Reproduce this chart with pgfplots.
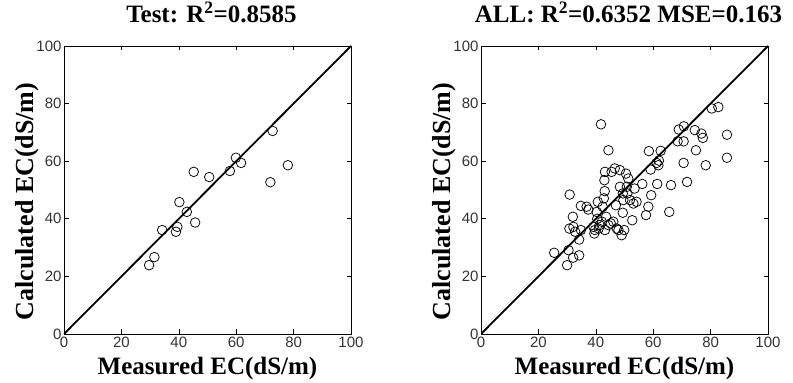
\documentclass[border=0pt]{standalone}
\usepackage{fontspec}
\setmainfont{Liberation Serif}
\newfontfamily\arialfont{Liberation Sans}
\usepackage{pgfplots}
\pgfplotsset{compat=1.18}

\pgfplotsset{
  ecaxis/.style={
    scale only axis, width=287pt, height=288pt,
    xmin=0, xmax=100, ymin=0, ymax=100,
    xtick={0,20,...,100}, ytick={0,20,...,100},
    tick align=inside, xtick pos=both, ytick pos=both,
    major tick length=4.5pt,
    axis line style={line width=0.9pt},
    tick style={line width=0.6pt, black},
    /pgf/number format/assume math mode=true,
    ticklabel style={font=\arialfont\fontsize{15}{15}\selectfont, color=black!80},
    xticklabel style={yshift=1pt},
    yticklabel style={xshift=1pt},
    every axis title/.style={font=\bfseries\fontsize{25}{25}\selectfont, at={(axis description cs:0.5,1)}, anchor=base, yshift=23pt, xshift=4pt},
    every axis x label/.style={at={(axis description cs:0.5,0)}, anchor=base, yshift=-41pt, font=\bfseries\fontsize{25}{25}\selectfont},
    every axis y label/.style={at={(axis description cs:-0.105,0.46)}, rotate=90, anchor=base, font=\bfseries\fontsize{26}{26}\selectfont},
    xlabel={Measured EC(dS/m)},
    ylabel={Calculated EC(dS/m)},
  },
  pts/.style={only marks, mark=o, mark size=4.8pt, mark options={line width=0.75pt, black}},
  diag/.style={black, line width=1.8pt, no marks},
}

\begin{document}
\begin{tikzpicture}[x=1pt,y=1pt]
\useasboundingbox (0,0) rectangle (793,383);
\begin{axis}[ecaxis, at={(64pt,49pt)}, anchor=south west,
  title={Test: R\textsuperscript{2}=0.8585}]
\addplot[diag] coordinates {(0,0) (100,100)};
\addplot[pts] coordinates {
(29.65,23.9) (31.5,26.7) (34.2,36.1) (39.0,35.5) (39.5,37.2) (40.2,45.8)
(42.8,42.4) (45.7,38.7) (45.2,56.3) (50.6,54.5) (57.8,56.6) (59.9,61.2)
(61.7,59.4) (71.9,52.7) (72.7,70.5) (78.0,58.6)
};
\end{axis}
\begin{axis}[ecaxis, at={(481pt,49pt)}, anchor=south west,
  title={ALL: R\textsuperscript{2}=0.6352 MSE=0.163}]
\addplot[diag] coordinates {(0,0) (100,100)};
\addplot[pts] table {
x y
25.5 28.2
30.0 23.9
30.9 48.4
30.5 29.1
30.8 36.6
32.0 40.7
32.2 37.2
32.1 26.5
32.8 35.5
34.2 27.3
34.2 32.8
34.8 36.1
34.8 44.5
36.8 44.2
37.4 43.2
39.2 37.2
39.5 34.9
39.7 36.1
40.3 42.4
40.7 45.9
41.8 72.8
41.0 36.6
41.3 37.8
42.1 39.0
42.4 44.2
42.8 47.1
43.0 53.4
43.2 56.3
43.1 49.6
44.4 63.8
43.6 40.7
43.2 36.1
44.4 37.8
45.2 38.4
45.5 56.3
46.6 57.5
47.0 44.7
47.3 36.6
48.4 56.9
49.4 48.8
49.4 42.1
49.0 34.3
49.9 36.1
49.6 46.5
50.5 55.7
50.8 51.1
51.3 54.0
51.0 48.8
51.9 46.5
52.7 39.5
53.1 45.3
54.2 45.9
56.2 52.1
57.5 41.3
58.3 44.2
58.5 63.5
59.1 57.1
59.3 48.2
61.2 59.4
61.4 52.1
61.8 58.6
62.0 60.2
62.6 63.6
65.6 42.4
66.2 51.7
68.5 66.9
68.9 71.0
70.7 72.1
70.6 59.4
70.6 66.9
71.8 52.8
74.5 70.8
74.9 63.8
76.8 69.6
77.3 68.1
78.3 58.6
80.4 78.3
82.7 78.8
85.7 69.2
85.7 61.2
48.4 51.1
46.1 39.0
47.9 36.1
53.5 50.5
40.5 40.0
};
\end{axis}
\end{tikzpicture}
\end{document}
